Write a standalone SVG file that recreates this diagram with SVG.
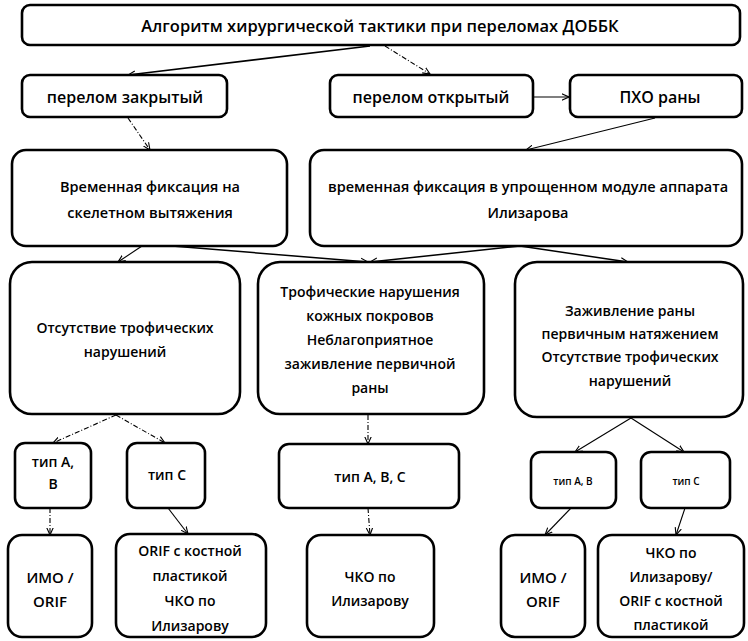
<svg xmlns="http://www.w3.org/2000/svg" width="748" height="641" viewBox="0 0 748 641">
<defs>
<style>
.box{fill:#fff;stroke:#000;stroke-width:2.6}
.t{font-family:"Open Sans","Noto Sans","Liberation Sans",sans-serif;font-weight:600;fill:#000;text-anchor:middle}
.c{fill:none;stroke:#000;stroke-width:1.1}
.d{stroke-dasharray:5 2 1 2}
</style>
<marker id="ah" viewBox="0 0 10 10" refX="9" refY="5" markerWidth="8" markerHeight="8" markerUnits="userSpaceOnUse" orient="auto">
<path d="M0,1 L9,5 L0,9" fill="none" stroke="#000" stroke-width="1.4"/>
</marker>
</defs>
<rect width="748" height="641" fill="#fff"/>
<g id="connectors">
<path class="c" style="stroke-width:1.6" d="M370,46 L128,75" marker-end="url(#ah)"/>
<path class="c d" d="M385,46 L430,74" marker-end="url(#ah)"/>
<path class="c" d="M533,97 L569,97" marker-end="url(#ah)"/>
<path class="c d" d="M128,118 L150,150" marker-end="url(#ah)"/>
<path class="c" d="M655,118 L526,150" marker-end="url(#ah)"/>
<path class="c" d="M142,246 L118,262" marker-end="url(#ah)"/>
<path class="c" style="stroke-width:1.5" d="M172,246 L368,262" marker-end="url(#ah)"/>
<path class="c" style="stroke-width:1.5" d="M520,246 L370,262" marker-end="url(#ah)"/>
<path class="c" style="stroke-width:1.5" d="M520,246 L628,262" marker-end="url(#ah)"/>
<path class="c d" d="M116,415 L53,443" marker-end="url(#ah)"/>
<path class="c d" d="M116,415 L165,443" marker-end="url(#ah)"/>
<path class="c d" d="M368,415 L368,444" marker-end="url(#ah)"/>
<path class="c" d="M631,418 L575,452" marker-end="url(#ah)"/>
<path class="c" d="M631,418 L684,452" marker-end="url(#ah)"/>
<path class="c d" d="M50,508 L50,535" marker-end="url(#ah)"/>
<path class="c" d="M168,508 L188,534" marker-end="url(#ah)"/>
<path class="c d" d="M368,508 L370,535" marker-end="url(#ah)"/>
<path class="c" d="M571,508 L545,535" marker-end="url(#ah)"/>
<path class="c" d="M685,508 L676,535" marker-end="url(#ah)"/>
</g>
<g id="title">
<rect class="box" x="22" y="5" width="718" height="40" rx="8"/>
<text class="t" x="380" y="32" font-size="16.5" font-weight="700">Алгоритм  хирургической тактики при переломах ДОББК</text>
</g>
<g id="closed">
<rect class="box" x="22" y="75" width="205" height="42" rx="8"/>
<text class="t" x="125" y="103" font-size="16">перелом закрытый</text>
</g>
<g id="open">
<rect class="box" x="330" y="75" width="203" height="42" rx="8"/>
<text class="t" x="431" y="103" font-size="16">перелом открытый</text>
</g>
<g id="pho">
<rect class="box" x="570" y="75" width="172" height="42" rx="8"/>
<text class="t" x="660" y="103" font-size="16">ПХО раны</text>
</g>
<g id="fix-skeletal">
<rect class="box" x="12" y="150" width="275" height="96" rx="14"/>
<text class="t" x="150" y="192" font-size="14.5">Временная фиксация  на</text>
<text class="t" x="150" y="218" font-size="14.5">скелетном вытяжения</text>
</g>
<g id="fix-ilizarov">
<rect class="box" x="310" y="150" width="432" height="96" rx="14"/>
<text class="t" x="528" y="192" font-size="14.5">временная фиксация  в упрощенном модуле аппарата</text>
<text class="t" x="528" y="218" font-size="14.5">Илизарова</text>
</g>
<g id="no-trophic">
<rect class="box" x="10" y="262" width="230" height="152" rx="22"/>
<text class="t" x="125" y="333" font-size="14">Отсутствие трофических</text>
<text class="t" x="125" y="357" font-size="14">нарушений</text>
</g>
<g id="trophic">
<rect class="box" x="258" y="262" width="226" height="152" rx="22"/>
<text class="t" x="370" y="297" font-size="14">Трофические  нарушения</text>
<text class="t" x="370" y="321" font-size="14">кожных покровов</text>
<text class="t" x="370" y="345" font-size="14">Неблагоприятное</text>
<text class="t" x="370" y="369" font-size="14">заживление первичной</text>
<text class="t" x="370" y="393" font-size="14">раны</text>
</g>
<g id="primary-healing">
<rect class="box" x="515" y="262" width="228" height="155" rx="22"/>
<text class="t" x="630" y="316" font-size="14">Заживление раны</text>
<text class="t" x="630" y="339" font-size="14">первичным  натяжением</text>
<text class="t" x="630" y="362" font-size="14">Отсутствие трофических</text>
<text class="t" x="630" y="386" font-size="14">нарушений</text>
</g>
<g id="type-ab-left">
<rect class="box" x="15" y="443" width="76" height="65" rx="10"/>
<text class="t" x="53" y="467" font-size="14">тип А,</text>
<text class="t" x="53" y="489" font-size="14">В</text>
</g>
<g id="type-c-left">
<rect class="box" x="127" y="443" width="78" height="65" rx="10"/>
<text class="t" x="167" y="480" font-size="14">тип  С</text>
</g>
<g id="type-abc">
<rect class="box" x="279" y="444" width="180" height="64" rx="10"/>
<text class="t" x="370" y="482" font-size="14">тип А, В, С</text>
</g>
<g id="type-ab-right">
<rect class="box" x="531" y="452" width="85" height="56" rx="10"/>
<text class="t" x="573" y="485" font-size="10" font-weight="700">тип А, В</text>
</g>
<g id="type-c-right">
<rect class="box" x="641" y="452" width="89" height="56" rx="10"/>
<text class="t" x="686" y="485" font-size="10" font-weight="700">тип  С</text>
</g>
<g id="imo-left">
<rect class="box" x="8" y="535" width="84" height="102" rx="14"/>
<text class="t" x="50" y="583" font-size="15">ИМО /</text>
<text class="t" x="50" y="607" font-size="15">ORIF</text>
</g>
<g id="orif-left">
<rect class="box" x="116" y="534" width="150" height="103" rx="14"/>
<text class="t" x="190" y="556" font-size="14">ORIF с костной</text>
<text class="t" x="190" y="581" font-size="14">пластикой</text>
<text class="t" x="190" y="606" font-size="14">ЧКО по</text>
<text class="t" x="190" y="631" font-size="14">Илизарову</text>
</g>
<g id="chko-mid">
<rect class="box" x="307" y="535" width="127" height="102" rx="14"/>
<text class="t" x="370" y="582" font-size="14">ЧКО по</text>
<text class="t" x="370" y="606" font-size="14">Илизарову</text>
</g>
<g id="imo-right">
<rect class="box" x="501" y="535" width="84" height="102" rx="14"/>
<text class="t" x="543" y="583" font-size="15">ИМО  /</text>
<text class="t" x="543" y="607" font-size="15">ORIF</text>
</g>
<g id="chko-right">
<rect class="box" x="598" y="535" width="146" height="102" rx="14"/>
<text class="t" x="671" y="558" font-size="14">ЧКО по</text>
<text class="t" x="671" y="582" font-size="14">Илизарову/</text>
<text class="t" x="671" y="606" font-size="14">ORIF с костной</text>
<text class="t" x="671" y="630" font-size="14">пластикой</text>
</g>
</svg>
